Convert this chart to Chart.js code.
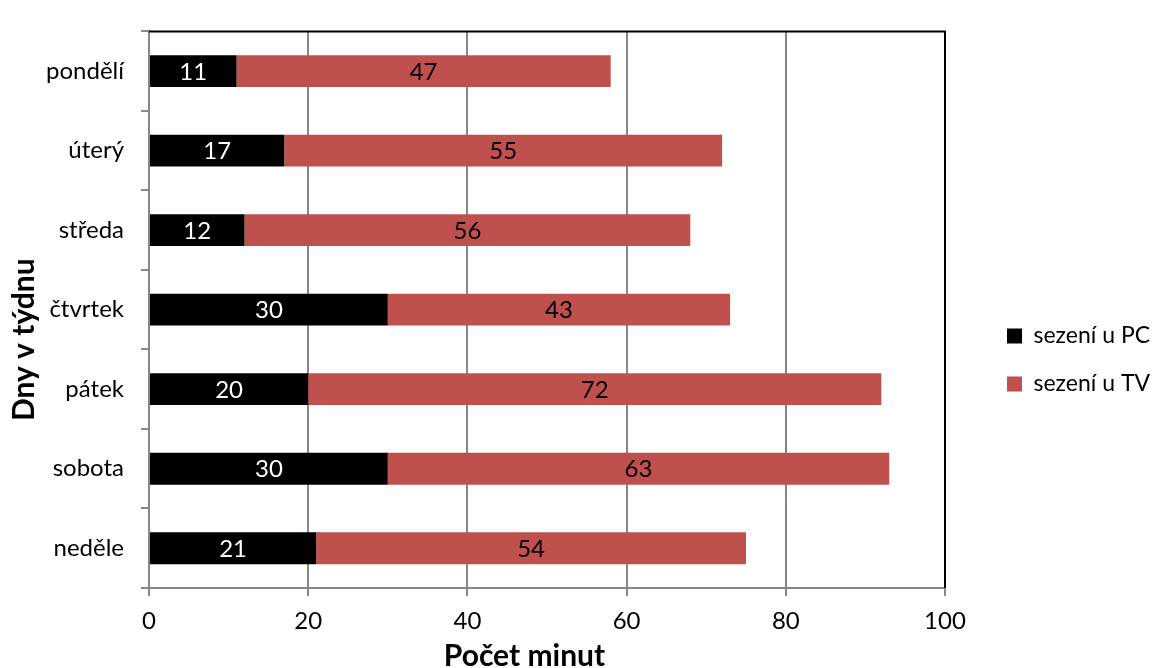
<!DOCTYPE html>
<html>
<head>
<meta charset="utf-8">
<script src="https://cdn.jsdelivr.net/npm/chart.js@4/dist/chart.umd.min.js"></script>
<style>
  html, body { margin: 0; padding: 0; background: #fff; }
  #wrap { width: 1153px; height: 668px; position: relative; }
</style>
</head>
<body>
<div id="wrap"><canvas id="c" width="1153" height="668"></canvas></div>
<script>
const categories = ['pondělí', 'úterý', 'středa', 'čtvrtek', 'pátek', 'sobota', 'neděle'];
const pcValues = [11, 17, 12, 30, 20, 30, 21];
const tvValues = [47, 55, 56, 43, 72, 63, 54];
const seriesNames = ['sezení u PC', 'sezení u TV'];
const xTicks = [0, 20, 40, 60, 80, 100];
const xTitle = 'Počet minut';
const yTitle = 'Dny v týdnu';

const FONT = 'Lato';
const GRID = '#878787';

const valueLabels = {
  id: 'valueLabels',
  afterDatasetsDraw(chart) {
    const ctx = chart.ctx;
    ctx.save();
    ctx.font = '24px ' + FONT;
    ctx.textAlign = 'center';
    ctx.textBaseline = 'middle';
    chart.data.datasets.forEach((ds, di) => {
      const meta = chart.getDatasetMeta(di);
      meta.data.forEach((el, i) => {
        const v = ds.data[i];
        ctx.fillStyle = di === 0 ? '#ffffff' : '#000000';
        ctx.fillText(String(v), (el.x + el.base) / 2, el.y + 1);
      });
    });
    ctx.restore();
  }
};

const frame = {
  id: 'frame',
  afterDraw(chart) {
    const {ctx, chartArea: a} = chart;
    ctx.save();
    ctx.strokeStyle = '#000';
    ctx.lineWidth = 2;
    ctx.beginPath();
    ctx.moveTo(a.left, a.top);
    ctx.lineTo(a.right, a.top);
    ctx.lineTo(a.right, a.bottom);
    ctx.stroke();
    ctx.restore();
  }
};

new Chart(document.getElementById('c'), {
  type: 'bar',
  data: {
    labels: categories,
    datasets: [
      { label: seriesNames[0], data: pcValues, backgroundColor: '#000000', borderWidth: 0,
        barPercentage: 0.4, categoryPercentage: 1 },
      { label: seriesNames[1], data: tvValues, backgroundColor: '#C0504D', borderWidth: 0,
        barPercentage: 0.4, categoryPercentage: 1 }
    ]
  },
  options: {
    indexAxis: 'y',
    responsive: false,
    animation: false,
    layout: { padding: { top: 12, left: 0, right: 0, bottom: 0 } },
    plugins: {
      legend: {
        position: 'right',
        maxWidth: 171,
        title: { display: true, text: ' ', font: { size: 2, lineHeight: 1 }, padding: { top: 38, bottom: 0 } },
        labels: {
          font: { family: FONT, size: 23 },
          color: '#000',
          boxWidth: 15,
          boxHeight: 15,
          padding: 25
        }
      },
      tooltip: { enabled: false }
    },
    scales: {
      x: {
        type: 'linear',
        stacked: true,
        min: 0,
        max: 100,
        afterBuildTicks: (s) => { s.ticks = xTicks.map(v => ({ value: v })); },
        afterFit: (s) => { s.height = 80; },
        ticks: { font: { family: FONT, size: 24 }, color: '#000', padding: 11 },
        grid: { color: GRID, lineWidth: 2, tickLength: 8, drawTicks: true },
        border: { color: GRID, width: 2 },
        title: {
          display: true,
          text: xTitle + '\u2002\u2002\u2002',
          font: { family: FONT, size: 30, weight: 'bold', lineHeight: 0.8 },
          color: '#000',
          padding: { top: 0, bottom: 0 }
        }
      },
      y: {
        type: 'category',
        stacked: true,
        afterFit: (s) => { s.width = 149; },
        ticks: { font: { family: FONT, size: 24 }, color: '#000', padding: 17 },
        grid: { drawOnChartArea: false, drawTicks: true, tickLength: 8, color: GRID, lineWidth: 2 },
        border: { color: GRID, width: 2 },
        title: {
          display: true,
          text: yTitle + '\u2002\u2002\u2002\u2002',
          font: { family: FONT, size: 30, weight: 'bold', lineHeight: 1 },
          color: '#000',
          padding: { top: 9, bottom: 0 }
        }
      },
      spacer: {
        type: 'category',
        position: 'right',
        display: true,
        afterFit: (s) => { s.width = 37; },
        ticks: { display: false },
        grid: { display: false, drawTicks: false },
        border: { display: false }
      }
    }
  },
  plugins: [valueLabels, frame]
});
</script>
</body>
</html>
